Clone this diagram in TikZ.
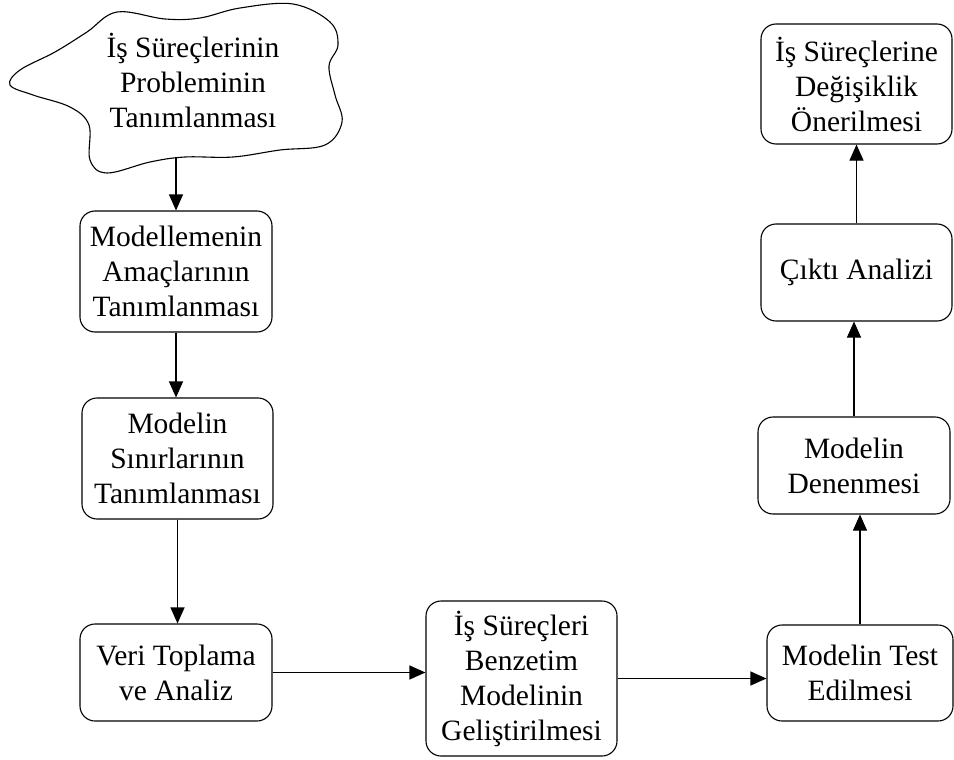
\documentclass[tikz,border=0pt]{standalone}
\usepackage{fontspec}
\setmainfont{Liberation Serif}
\usetikzlibrary{arrows.meta}
\begin{document}
\begin{tikzpicture}[x=1pt,y=-1pt,
  txt/.style={align=center, inner sep=0pt, font=\fontsize{29.5}{35}\selectfont},
  stepbox/.style={txt, draw, line width=1.1pt, rounded corners=15pt},
  arr/.style={line width=1.1pt, -{Triangle[length=16pt,width=14pt]}}]
\useasboundingbox (0,0) rectangle (954,760);

% cloud-shaped start symbol
\draw[line width=1.1pt] plot[smooth cycle, tension=0.6] coordinates {
  (87,32) (117,12) (165,19) (200,18) (240,8) (293,4) (330,22) (338,45)
  (329,66) (335,95) (342,122) (325,145) (280,150) (233,157) (185,157)
  (150,162) (107,173) (90,160) (89,125) (70,107) (33,95) (10,85)
  (20,70) (55,52)};
\node[txt] (prob) at (193,80) {İş Süreçlerinin\\Probleminin\\Tanımlanması};
\coordinate (probout) at (176,158);

% process steps
\node[stepbox, minimum width=192pt, minimum height=121pt] (amac) at (176,271.5)
  {Modellemenin\\Amaçlarının\\Tanımlanması};
\node[stepbox, minimum width=191pt, minimum height=121pt] (sinir) at (177.5,458.5)
  {Modelin\\Sınırlarının\\Tanımlanması};
\node[stepbox, minimum width=192pt, minimum height=97pt] (veri) at (176,672.5)
  {Veri Toplama\\ve Analiz};
\node[stepbox, minimum width=191pt, minimum height=155pt] (benz) at (521.5,678.5)
  {İş Süreçleri\\Benzetim\\Modelinin\\Geliştirilmesi};
\node[stepbox, minimum width=186pt, minimum height=96pt] (test) at (860,673)
  {Modelin Test\\Edilmesi};
\node[stepbox, minimum width=192pt, minimum height=97pt] (dene) at (854,465.5)
  {Modelin\\Denenmesi};
\node[stepbox, minimum width=191pt, minimum height=97pt] (cikti) at (856.5,272.5)
  {Çıktı Analizi};
\node[stepbox, minimum width=191pt, minimum height=120pt] (oneri) at (856.5,84)
  {İş Süreçlerine\\Değişiklik\\Önerilmesi};

% connectors
\draw[arr] (probout) -- (probout |- amac.north);
\draw[arr] (amac.south) -- (amac.south |- sinir.north);
\draw[arr] (sinir.south) -- (sinir.south |- veri.north);
\draw[arr] (veri.east) -- (veri.east -| benz.west);
\draw[arr] (benz.east) -- (benz.east -| test.west);
\draw[arr] (test.north) -- (test.north |- dene.south);
\draw[arr] (dene.north) -- (dene.north |- cikti.south);
\draw[arr] (cikti.north) -- (cikti.north |- oneri.south);
\end{tikzpicture}
\end{document}
